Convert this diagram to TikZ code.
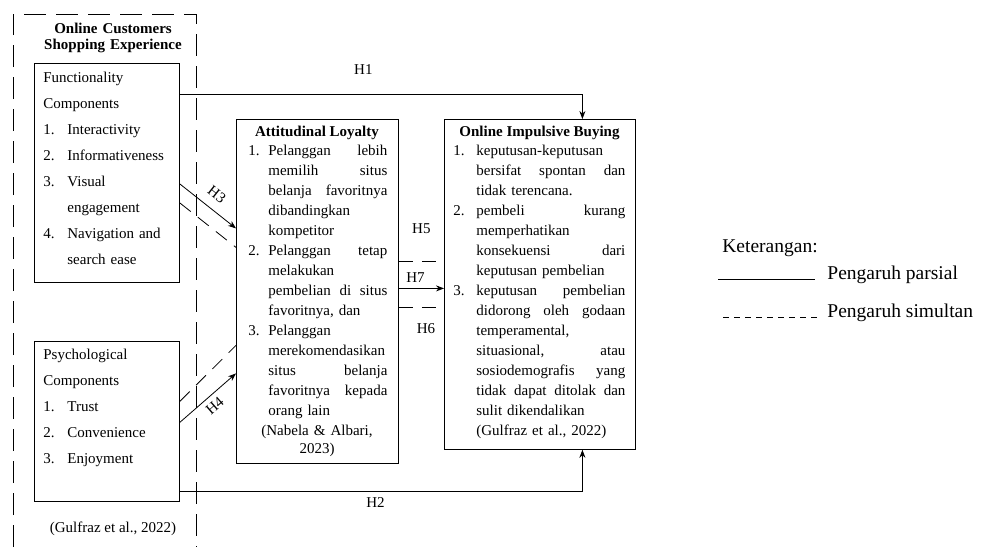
\documentclass[tikz,border=0pt]{standalone}
\usepackage{fontspec}
\setmainfont{Liberation Serif}
\usetikzlibrary{arrows.meta}
\newlength\numw
\newlength\txtw
\newcommand\nm[1]{\makebox[\numw][l]{#1}}
\newcommand\ind{\hspace*{\numw}}
\newcommand\js[1]{\makebox[\txtw][s]{\spaceskip=.25em plus 1fil\xspaceskip=\spaceskip #1}}
\begin{document}
\begin{tikzpicture}[x=1pt,y=-1pt,>={Stealth[length=8pt,width=6pt]},line width=0.8pt,
  box/.style={draw,inner sep=0pt,anchor=north west},
  txt/.style={inner sep=0pt,anchor=base west,align=left,font=\fontsize{15}{20}\selectfont},
  wide/.style={txt,font=\fontsize{15}{26}\selectfont},
  ttl/.style={inner sep=0pt,anchor=base,align=center,font=\fontsize{15}{16.5}\selectfont\bfseries},
  lbl/.style={inner sep=1pt,font=\fontsize{15}{18}\selectfont},
  simul/.style={dash pattern=on 14pt off 9pt},
  grpline/.style={dash pattern=on 22pt off 10pt}]
\useasboundingbox (0,0) rectangle (990,547);
% outer group
\draw[grpline] (13,547) -- (13,14) -- (196,14) -- (196,547);
\node[ttl,text width=160pt] (grpTl) at (113,33) {Online Customers\\Shopping Experience};
\node[lbl,anchor=base,inner sep=0pt] (grpSrc) at (113,532) {(Gulfraz et al., 2022)};

% left boxes
\node[box,minimum width=145pt,minimum height=219pt] (fnc) at (34,63) {};
\node[wide,text width=126pt] (fncTx) at (43,82) {\setlength\numw{24pt}Functionality\\
  Components\\
  \nm{1.}Interactivity\\
  \nm{2.}Informativeness\\
  \nm{3.}Visual\\
  \ind engagement\\
  \nm{4.}Navigation and\\
  \ind search ease};
\node[box,minimum width=145pt,minimum height=160pt] (psy) at (34,341) {};
\node[wide,text width=126pt] (psyTx) at (43,359) {\setlength\numw{24pt}Psychological\\
  Components\\
  \nm{1.}Trust\\
  \nm{2.}Convenience\\
  \nm{3.}Enjoyment};

% attitudinal loyalty
\node[box,minimum width=162pt,minimum height=344pt] (atl) at (236,119) {};
\node[ttl] (atlTl) at (317,136) {Attitudinal Loyalty};
\node[txt,text width=142pt] (atlTx) at (248,155) {\setlength\numw{20pt}\setlength\txtw{119pt}%
  \nm{1.}\js{Pelanggan lebih}\\
  \ind\js{memilih situs}\\
  \ind\js{belanja favoritnya}\\
  \ind dibandingkan\\
  \ind kompetitor\\
  \nm{2.}\js{Pelanggan tetap}\\
  \ind melakukan\\
  \ind\js{pembelian di situs}\\
  \ind favoritnya, dan\\
  \nm{3.}Pelanggan\\
  \ind merekomendasikan\\
  \ind\js{situs belanja}\\
  \ind\js{favoritnya kepada}\\
  \ind orang lain};
\node[txt,anchor=base,align=center,text width=150pt,font=\fontsize{15}{18}\selectfont] (atlSrc) at (317,435) {(Nabela \& Albari,\\2023)};

% online impulsive buying
\node[box,minimum width=191pt,minimum height=330pt] (oib) at (444,119) {};
\node[ttl] (oibTl) at (539.5,136) {Online Impulsive Buying};
\node[txt,text width=176pt] (oibTx) at (453,155) {\setlength\numw{23pt}\setlength\txtw{149pt}%
  \nm{1.}keputusan-keputusan\\
  \ind\js{bersifat spontan dan}\\
  \ind tidak terencana.\\
  \nm{2.}\js{pembeli kurang}\\
  \ind memperhatikan\\
  \ind\js{konsekuensi dari}\\
  \ind keputusan pembelian\\
  \nm{3.}\js{keputusan pembelian}\\
  \ind\js{didorong oleh godaan}\\
  \ind temperamental,\\
  \ind\js{situasional, atau}\\
  \ind\js{sosiodemografis yang}\\
  \ind\js{tidak dapat ditolak dan}\\
  \ind sulit dikendalikan\\
  \ind(Gulfraz et al., 2022)};

% hypotheses
\draw[->] ([yshift=-31pt]fnc.north east) -| ([xshift=42.5pt]oib.north)
  node[lbl,pos=0.228,above=18pt] {H1};
\draw[->] ([yshift=10pt]psy.south east) -| ([xshift=42.5pt]oib.south)
  node[lbl,pos=0.243,below=4pt] {H2};
\draw[->] ([yshift=-11pt]fnc.east) -- ([yshift=63pt]atl.west)
  node[lbl,midway,above=8pt,sloped] {H3};
\draw[simul] ([yshift=-30pt]fnc.east) -- ([yshift=44pt]atl.west);
\draw[->] ([yshift=-1pt]psy.east) -- ([yshift=-82pt]atl.west)
  node[lbl,midway,below=4pt,sloped] {H4};
\draw[simul] ([yshift=20pt]psy.east) -- ([yshift=-54pt]atl.west);
\draw[->] ([yshift=3pt]atl.east) -- ([yshift=-4pt]oib.west)
  node[lbl,pos=0.37,above=5pt] {H7};
\draw[simul] ([yshift=30pt]atl.east) -- ([yshift=23pt]oib.west)
  node[lbl,midway,above=26pt] {H5};
\draw[simul] ([yshift=-16pt]atl.east) -- ([yshift=-23pt]oib.west)
  node[lbl,pos=0.6,below=15pt] {H6};

% keterangan
\node[inner sep=0pt,anchor=base west,font=\fontsize{19.5}{22}\selectfont] (ket) at (722,252) {Keterangan:};
\node[inner sep=0pt,anchor=base west,font=\fontsize{19.5}{22}\selectfont] (ketP) at (827,279) {Pengaruh parsial};
\node[inner sep=0pt,anchor=base west,font=\fontsize{19.5}{22}\selectfont] (ketS) at (827,317) {Pengaruh simultan};
\coordinate (ketPa) at (718,279);
\coordinate (ketSa) at (723,317);
\draw[line width=0.7pt] (ketPa) -- ([xshift=-12pt]ketP.base west);
\draw[line width=0.7pt,dash pattern=on 6pt off 5pt] (ketSa) -- ([xshift=-9pt]ketS.base west);
\end{tikzpicture}
\end{document}
